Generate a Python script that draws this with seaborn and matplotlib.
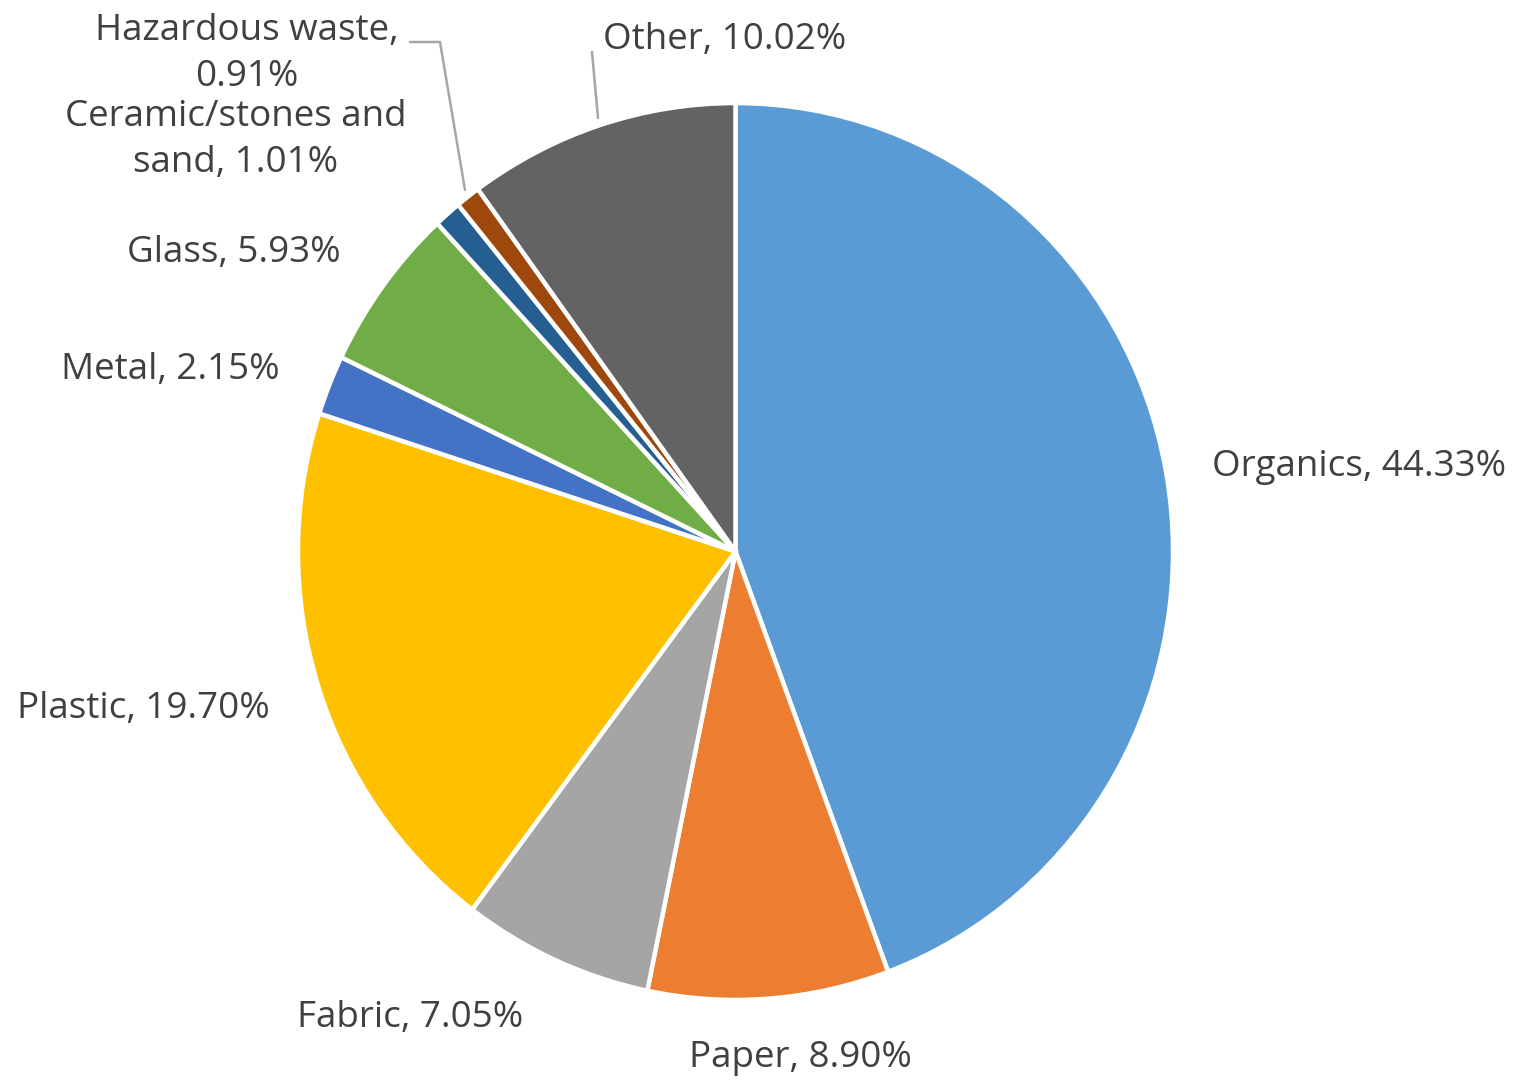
import seaborn as sns
import matplotlib.pyplot as plt

categories = ['Organics', 'Paper', 'Fabric', 'Plastic', 'Metal', 'Glass',
              'Ceramic/stones and\nsand', 'Hazardous waste,\n', 'Other']
shares = [44.33, 8.90, 7.05, 19.70, 2.15, 5.93, 1.01, 0.91, 10.02]
colors = ['#5B9BD5', '#ED7D31', '#A5A5A5', '#FFC000', '#4472C4', '#70AD47',
          '#255E91', '#9E480E', '#636363']

sns.set_style('white')
plt.rcParams['font.family'] = ['Open Sans', 'DejaVu Sans']

W, H = 1516, 1080
sy = 1.025  # the reference pie is slightly taller than wide
fig = plt.figure(figsize=(W / 100, H / 100), dpi=100)
ax = fig.add_axes([0, 0, 1, 1])

ax.pie(shares, colors=colors, startangle=90, counterclock=False,
       center=(735.5, (H - 551.5) / sy), radius=437.5,
       wedgeprops=dict(edgecolor='white', linewidth=3.2))
ax.set_xlim(0, W)
ax.set_ylim(0, H / sy)
ax.set_aspect('auto')
ax.axis('off')


def fx(x, y):
    return x / W, 1 - y / H


# label positions in pixels (from top-left)
label_pos = [
    (1212, 467, 'left'),
    (800, 1058, 'center'),
    (410, 1018, 'center'),
    (143.5, 709, 'center'),
    (170.5, 370, 'center'),
    (234, 253, 'center'),
    (236, 140, 'center'),
    (247, 54, 'center'),
    (725, 40, 'center'),
]
for name, val, (x, y, ha) in zip(categories, shares, label_pos):
    if name.endswith('\n'):
        txt = f'{name}{val:.2f}%'
    else:
        txt = f'{name}, {val:.2f}%'
    fig.text(*fx(x, y), txt, ha=ha, va='center', fontsize=26.5,
             color='#404040', linespacing=1.38)

# leader lines
for xs, ys in [([410, 440, 465], [42, 42, 190]), ([592, 598], [52, 118])]:
    pts = [fx(x, y) for x, y in zip(xs, ys)]
    fig.add_artist(plt.Line2D([p[0] for p in pts], [p[1] for p in pts],
                              color='#A6A6A6', lw=1.8,
                              transform=fig.transFigure))

fig.savefig('out.png', dpi=100, facecolor='white')
